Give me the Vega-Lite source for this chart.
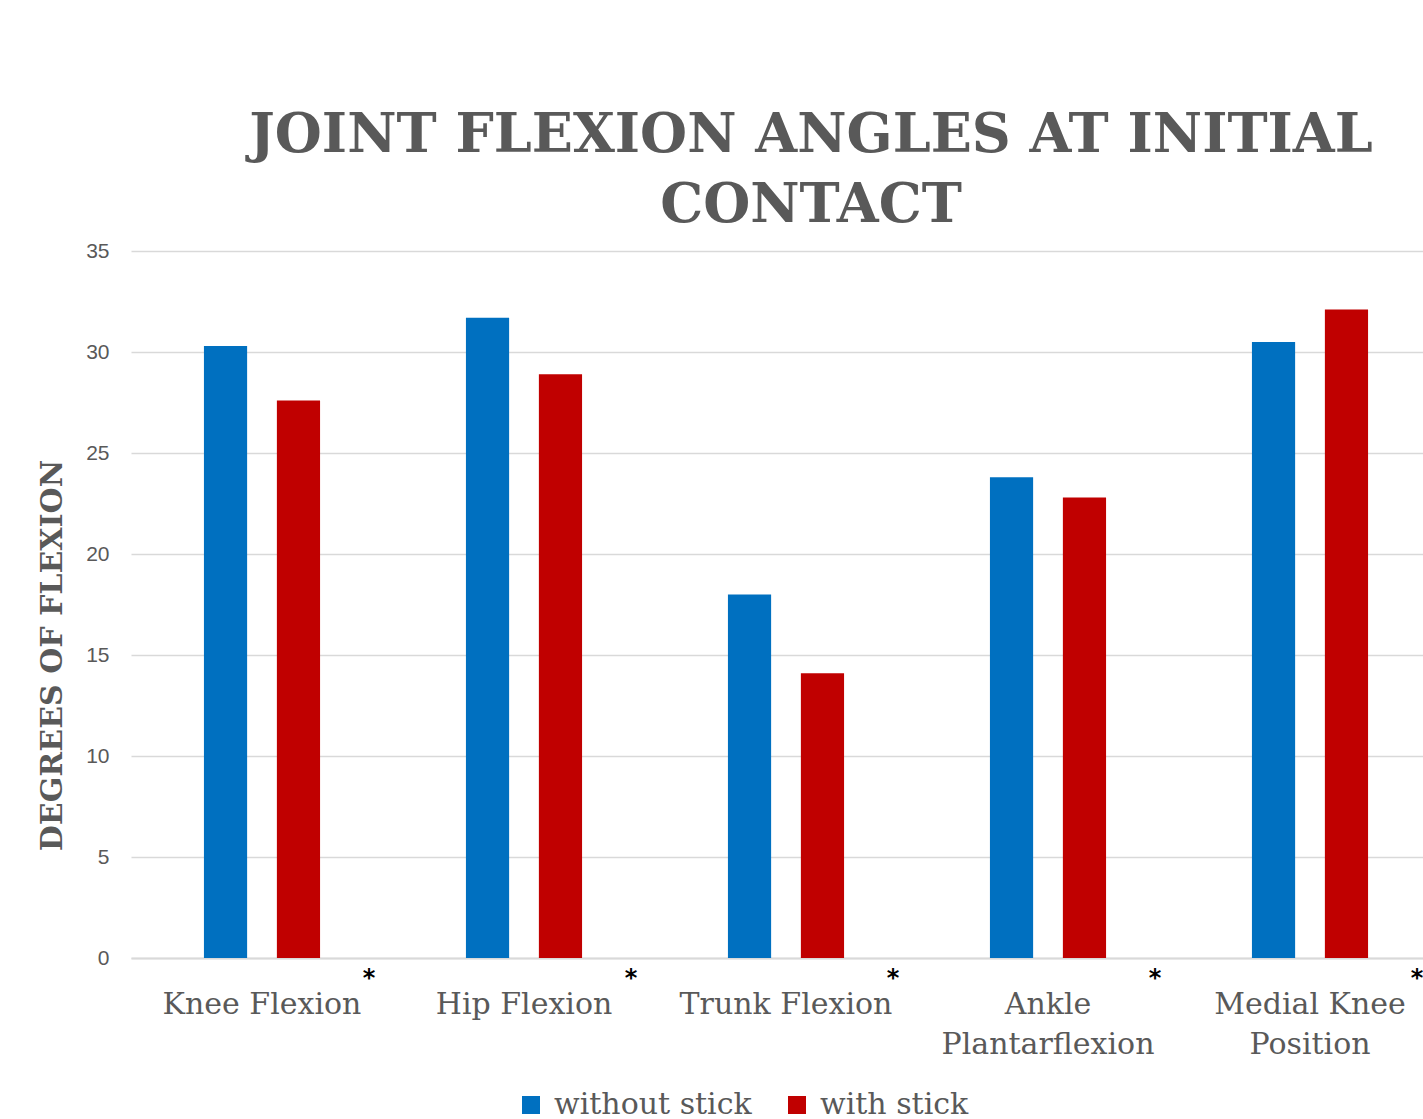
{
  "$schema": "https://vega.github.io/schema/vega-lite/v6.json",
  "width": 1292,
  "height": 707,
  "autosize": {"type": "none"},
  "padding": {"left": 131, "top": 251, "right": 0, "bottom": 161},
  "background": "white",
  "title": {
    "text": ["JOINT FLEXION ANGLES AT INITIAL", "CONTACT"],
    "font": "DejaVu Serif",
    "fontWeight": "bold",
    "fontSize": 54,
    "color": "#595959",
    "lineHeight": 70,
    "anchor": "middle",
    "dx": 34,
    "offset": 7
  },
  "config": {"view": {"stroke": null}},
  "layer": [
    {
      "data": {
        "values": [
          {"joint": "Knee Flexion", "condition": "without stick", "angle": 30.3},
          {"joint": "Knee Flexion", "condition": "with stick", "angle": 27.6},
          {"joint": "Hip Flexion", "condition": "without stick", "angle": 31.7},
          {"joint": "Hip Flexion", "condition": "with stick", "angle": 28.9},
          {"joint": "Trunk Flexion", "condition": "without stick", "angle": 18.0},
          {"joint": "Trunk Flexion", "condition": "with stick", "angle": 14.1},
          {"joint": "Ankle Plantarflexion", "condition": "without stick", "angle": 23.8},
          {"joint": "Ankle Plantarflexion", "condition": "with stick", "angle": 22.8},
          {"joint": "Medial Knee Position", "condition": "without stick", "angle": 30.5},
          {"joint": "Medial Knee Position", "condition": "with stick", "angle": 32.1}
        ]
      },
      "mark": {"type": "bar"},
      "encoding": {
        "x": {
          "field": "joint",
          "type": "nominal",
          "sort": null,
          "scale": {"range": [0, 1310], "paddingInner": 0, "paddingOuter": 0},
          "axis": {
            "title": null,
            "labelAngle": 0,
            "labelFont": "DejaVu Serif",
            "labelFontSize": 30,
            "labelColor": "#595959",
            "labelPadding": 31,
            "labelLineHeight": 40,
            "labelBaseline": "top",
            "labelLimit": 0,
            "labelOverlap": false,
            "labelExpr": "datum.value == 'Ankle Plantarflexion' ? ['Ankle', 'Plantarflexion'] : datum.value == 'Medial Knee Position' ? ['Medial Knee', 'Position'] : datum.value",
            "ticks": false,
            "domainColor": "#d9d9d9",
            "domainWidth": 2,
            "grid": false
          }
        },
        "xOffset": {
          "field": "condition",
          "type": "nominal",
          "sort": ["without stick", "with stick"],
          "scale": {"paddingInner": 0.408, "paddingOuter": 1.049}
        },
        "y": {
          "field": "angle",
          "type": "quantitative",
          "scale": {"domain": [0, 35]},
          "axis": {
            "title": "DEGREES OF FLEXION",
            "titleFont": "DejaVu Serif",
            "titleFontWeight": "bold",
            "titleFontSize": 30,
            "titleColor": "#595959",
            "titleAngle": -90,
            "titleX": -79,
            "titleY": 404,
            "titleAlign": "center",
            "titleBaseline": "middle",
            "values": [0, 5, 10, 15, 20, 25, 30, 35],
            "labelFont": "Liberation Sans",
            "labelFontSize": 21,
            "labelColor": "#595959",
            "labelPadding": 22,
            "ticks": false,
            "domain": false,
            "gridColor": "#d9d9d9",
            "gridWidth": 1.5
          }
        },
        "color": {
          "field": "condition",
          "type": "nominal",
          "scale": {"domain": ["without stick", "with stick"], "range": ["#0070C0", "#C00000"]},
          "legend": {
            "orient": "none",
            "legendX": 385,
            "legendY": 839,
            "direction": "horizontal",
            "title": null,
            "symbolType": "square",
            "symbolSize": 324,
            "symbolStrokeWidth": 0,
            "labelFont": "DejaVu Serif",
            "labelFontSize": 30,
            "labelColor": "#595959",
            "labelOffset": 8,
            "labelLimit": 0,
            "columnPadding": 30
          }
        }
      }
    },
    {
      "data": {
        "values": [
          {"joint": "Knee Flexion", "note": "*"},
          {"joint": "Hip Flexion", "note": "*"},
          {"joint": "Trunk Flexion", "note": "*"},
          {"joint": "Ankle Plantarflexion", "note": "*"},
          {"joint": "Medial Knee Position", "note": "*"}
        ]
      },
      "mark": {"type": "text", "dx": 107, "dy": 21, "fontSize": 24, "fontWeight": "bold", "font": "DejaVu Sans", "color": "black"},
      "encoding": {
        "x": {"field": "joint", "type": "nominal", "sort": null},
        "y": {"datum": 0},
        "text": {"field": "note"}
      }
    }
  ]
}
